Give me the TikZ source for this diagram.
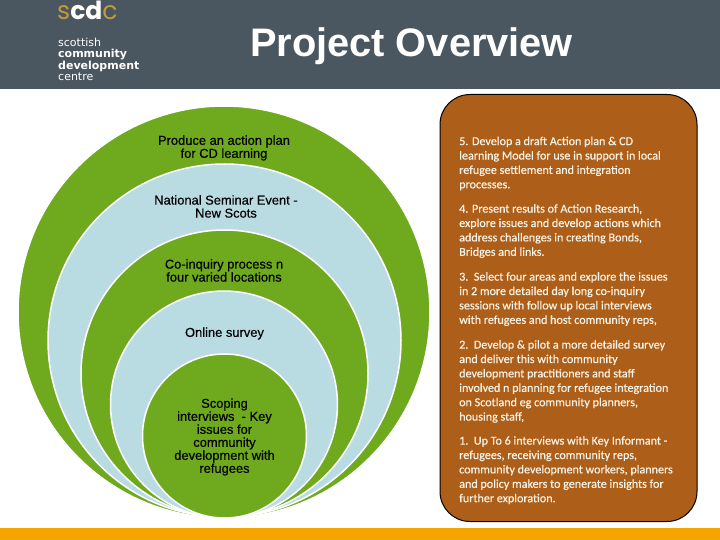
\documentclass[tikz,border=0pt]{standalone}
\usepackage{fontspec}
\setmainfont{Liberation Sans}
\newfontfamily\calfont[FakeBold=0.5]{Carlito}
\newfontfamily\arialsemi[FakeBold=0.4]{Liberation Sans}
\newfontfamily\logofont{Poppins}
\newfontfamily\logotext{DejaVu Sans}
\definecolor{hdr}{HTML}{4A5660}
\definecolor{barc}{HTML}{F5A400}
\definecolor{ringg}{HTML}{6EA91E}
\definecolor{ringb}{HTML}{B9DCE3}
\definecolor{brownb}{HTML}{AD5E18}
\definecolor{goldl}{HTML}{C29A3C}
\definecolor{paper}{HTML}{F8F3E6}
\tikzset{
  ring/.style={circle,draw=white,line width=1.5pt,inner sep=0pt,minimum size=#1},
  lefttext/.style={align=center,inner sep=0pt,text=black,font=\arialsemi\fontsize{12.9}{13}\selectfont},
  righttext/.style={align=left,anchor=north west,inner sep=0pt,text=paper,font=\calfont\fontsize{12.1}{14.4}\selectfont},
  logoline/.style={anchor=base west,inner sep=0pt,text=white}
}
\begin{document}
\begin{tikzpicture}[x=1pt,y=-1pt]
\useasboundingbox (0,0) rectangle (720,540);
\fill[white] (0,0) rectangle (720,540);
\fill[hdr] (0,0) rectangle (720,89.5);
\fill[barc] (0,528) rectangle (720,540);
% logo
\node[logoline,font=\logofont\fontsize{25}{25}\selectfont] (logo) at (57,20) {\textcolor{goldl}{s}\textbf{cd}\textcolor{goldl}{c}};
\node[logoline,font=\logotext\fontsize{11}{11}\selectfont] (l1) at (58,46.5) {scottish};
\node[logoline,font=\logotext\bfseries\fontsize{11}{11}\selectfont] (l2) at (58,58) {community};
\node[logoline,font=\logotext\bfseries\fontsize{11}{11}\selectfont] (l3) at (58,69.5) {development};
\node[logoline,font=\logotext\fontsize{11}{11}\selectfont] (l4) at (58,81) {centre};
% title
\node[inner sep=0pt,text=white,font=\bfseries\fontsize{39.8}{40}\selectfont] (title) at (411.5,46) {Project Overview};
% rings
\node[ring=412pt,fill=ringg] (r1) at (224,312) {};
\node[ring=353pt,fill=ringb] (r2) at (224.5,340.5) {};
\node[ring=287pt,fill=ringg] (r3) at (224.5,373.5) {};
\node[ring=227pt,fill=ringb] (r4) at (224,404.5) {};
\node[ring=164pt,fill=ringg] (r5) at (224.5,436) {};
\node[lefttext] (t1) at (224,148) {Produce an action plan\\for CD learning};
\node[lefttext] (t2) at (226,206.5) {National Seminar Event -\\New Scots};
\node[lefttext] (t3) at (224,270.5) {Co-inquiry process n\\four varied locations};
\node[lefttext] (t4) at (224.5,333.5) {Online survey};
\node[lefttext] (t5) at (224.5,437) {Scoping\\interviews\ \ - Key\\issues for\\community\\development with\\refugees};
% box
\draw[draw=black,line width=1pt,fill=brownb,rounded corners=30pt] (440,94.5) rectangle (697,521.5);
\node[righttext] (p5) at (459,136.5) {5. Develop a draft Action plan \& CD\\learning Model for use in support in local\\refugee settlement and integration\\processes.};
\node[righttext] (p4) at (459,204) {4. Present results of Action Research,\\explore issues and develop actions which\\address challenges in creating Bonds,\\Bridges and links.};
\node[righttext] (p3) at (459,272) {3.\ \ Select four areas and explore the issues\\in 2 more detailed day long co-inquiry\\sessions with follow up local interviews\\with refugees and host community reps,};
\node[righttext] (p2) at (459,340) {2.\ \ Develop \& pilot a more detailed survey\\and deliver this with community\\development practitioners and staff\\involved n planning for refugee integration\\on Scotland eg community planners,\\housing staff,};
\node[righttext] (p1) at (459,436) {1.\ \ Up To 6 interviews with Key Informant -\\refugees, receiving community reps,\\community development workers, planners\\and policy makers to generate insights for\\further exploration.};
\end{tikzpicture}
\end{document}
